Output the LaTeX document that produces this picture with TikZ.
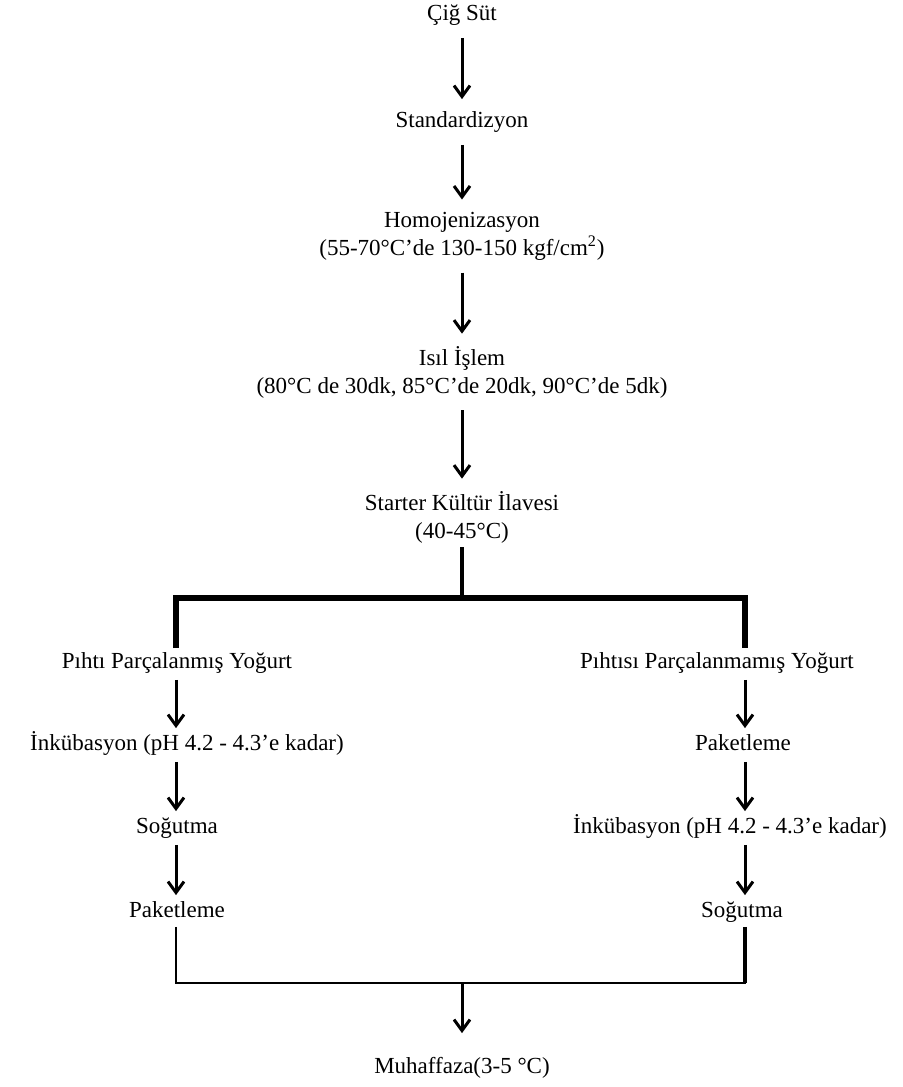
\documentclass[tikz,border=0pt]{standalone}
\usepackage{fontspec}
\setmainfont{Liberation Serif}
\usepackage{tikz}
\usetikzlibrary{arrows.meta}

\begin{document}
\begin{tikzpicture}[line cap=butt,line join=miter,>={Straight Barb[length=5.5pt,width=8pt]},x=0.5pt,y=-0.5pt,
  lbl/.style={inner sep=2pt,font=\fontsize{11.5}{14}\selectfont,align=center},
  tek/.style={lbl,text height=8pt,text depth=2.5pt},
  akis/.style={->,line width=1.5pt,shorten <=4pt,shorten >=4pt},
  kol/.style={line width=2.6pt},
  birles/.style={line width=1.3pt}]
\useasboundingbox (0,0) rectangle (903,1087);
%\draw [help lines, step=50] (0,0) grid (903,1087);
\coordinate (L) at (176,0);
\coordinate (R) at (745,0);

\node[tek] (cig) at (462,15) {Çiğ Süt};
\node[tek] (std) at (462,122) {Standardizyon};
\node[lbl] (homo) at (462,236) {Homojenizasyon\\(55-70°C’de 130-150 kgf/cm\textsuperscript{2})};
\node[lbl] (isil) at (462,372) {Isıl İşlem\\(80°C de 30dk, 85°C’de 20dk, 90°C’de 5dk)};
\node[lbl] (starter) at (462,517) {Starter Kültür İlavesi\\(40-45°C)};

\node[tek] (sol1) at (177,663) {Pıhtı Parçalanmış Yoğurt};
\node[tek] (sol2) at (187,745) {İnkübasyon (pH 4.2 - 4.3’e kadar)};
\node[tek] (sol3) at (177,828) {Soğutma};
\node[tek] (sol4) at (177,912) {Paketleme};

\node[tek] (sag1) at (717,663) {Pıhtısı Parçalanmamış Yoğurt};
\node[tek] (sag2) at (743,745) {Paketleme};
\node[tek] (sag3) at (730,828) {İnkübasyon (pH 4.2 - 4.3’e kadar)};
\node[tek] (sag4) at (742,912) {Soğutma};

\node[tek] (muh) at (462,1068) {Muhaffaza(3-5 °C)};

\draw[akis] (cig) -- (std);
\draw[akis] (std) -- (homo);
\draw[akis] (homo) -- (isil);
\draw[akis] (isil) -- (starter);

% dallanma
\coordinate (kol) at (462,598);
\draw[line width=1.6pt] (starter.south) -- (kol);
\draw[kol] (sol1.north -| L) |- (kol) -| (sag1.north -| R);

\draw[akis,shorten <=1pt,shorten >=1pt] (sol1.south -| L) -- (sol2.north -| L);
\draw[akis,shorten <=1pt,shorten >=1pt] (sol2.south -| L) -- (sol3.north -| L);
\draw[akis,shorten <=1pt,shorten >=1pt] (sol3.south -| L) -- (sol4.north -| L);

\draw[akis,shorten <=1pt,shorten >=1pt] (sag1.south -| R) -- (sag2.north -| R);
\draw[akis,shorten <=1pt,shorten >=1pt] (sag2.south -| R) -- (sag3.north -| R);
\draw[akis,shorten <=1pt,shorten >=1pt] (sag3.south -| R) -- (sag4.north -| R);

% birlesme
\coordinate (alt) at (462,983);
\draw[birles] (sol4.south -| L) |- (alt) -| (sag4.south -| R);
\draw[line width=2pt] (sag4.south -| R) -- (alt -| R);
\draw[akis,shorten <=0pt,shorten >=10pt] (alt) -- (muh);
\end{tikzpicture}
\end{document}
